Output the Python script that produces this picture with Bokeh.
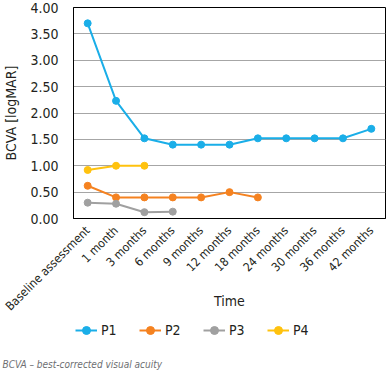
from bokeh.plotting import figure
from bokeh.layouts import column, row
from bokeh.models import (FactorRange, Range1d, Legend, LegendItem, Label,
                          NumeralTickFormatter, FixedTicker)
from bokeh.embed import file_html
from bokeh.resources import INLINE
import math

times = ["Baseline assessment", "1 month", "3 months", "6 months", "9 months", "12 months",
         "18 months", "24 months", "30 months", "36 months", "42 months"]
p1 = [3.70, 2.23, 1.52, 1.40, 1.40, 1.40, 1.52, 1.52, 1.52, 1.52, 1.70]
p2 = [0.62, 0.40, 0.40, 0.40, 0.40, 0.50, 0.40]
p3 = [0.30, 0.28, 0.12, 0.13]
p4 = [0.92, 1.00, 1.00]
series_names = ["P1", "P2", "P3", "P4"]
series_vals = [p1, p2, p3, p4]
colors = ["#1aaee8", "#f58220", "#a0a0a0", "#ffc20e"]
y_ticks = [0, 0.5, 1.0, 1.5, 2.0, 2.5, 3.0, 3.5, 4.0]

FONT = "DejaVu Sans Condensed"
TXT = "#231f20"

p = figure(width=388, height=312, x_range=FactorRange(factors=times),
           y_range=Range1d(0, 4), output_backend="svg", toolbar_location=None,
           min_border_left=61, min_border_top=7, min_border_right=3, min_border_bottom=0)

p.outline_line_color = "black"
p.outline_line_width = 1
p.xgrid.grid_line_color = None
p.ygrid.grid_line_color = "#a6a6a6"
p.ygrid.grid_line_width = 1

p.yaxis.ticker = FixedTicker(ticks=y_ticks)
p.yaxis.formatter = NumeralTickFormatter(format="0.00")
p.yaxis.axis_label = "BCVA [logMAR]"
p.xaxis.axis_label = "Time"
for ax in (p.xaxis[0], p.yaxis[0]):
    ax.axis_line_color = "black"
    ax.axis_line_width = 1
    ax.major_tick_line_color = None
    ax.minor_tick_line_color = None
    ax.major_label_text_font = FONT
    ax.major_label_text_color = TXT
    ax.axis_label_text_font = FONT
    ax.axis_label_text_font_style = "normal"
    ax.axis_label_text_color = TXT
    ax.axis_label_text_font_size = "14px"
p.yaxis.major_label_text_font_size = "14px"
p.xaxis.major_label_text_font_size = "12px"
p.xaxis.major_label_orientation = math.pi / 4
p.xaxis.major_label_standoff = 4
p.yaxis.major_label_standoff = 9
p.yaxis.axis_label_standoff = 8
p.xaxis.axis_label_standoff = -28

for vals, c in zip(series_vals, colors):
    xs = times[:len(vals)]
    p.line(xs, vals, line_color=c, line_width=2)
    p.scatter(xs, vals, size=7, fill_color=c, line_color=c)

# legend strip + footnote (series drawn outside its visible y-range; only legend shows)
q = figure(width=388, height=58, x_range=FactorRange(factors=times), y_range=Range1d(10, 11),
           x_axis_type=None, y_axis_type=None, output_backend="svg", toolbar_location=None,
           min_border=0)
q.outline_line_color = None
q.xgrid.grid_line_color = None
q.ygrid.grid_line_color = None

items = []
for name, vals, c in zip(series_names, series_vals, colors):
    xs = times[:len(vals)]
    r1 = q.line(xs, vals, line_color=c, line_width=2)
    r2 = q.scatter(xs, vals, size=5, fill_color=c, line_color=c)
    items.append(LegendItem(label=name, renderers=[r1, r2]))

legend = Legend(items=items, orientation="horizontal", location=(75, 30),
                label_text_font=FONT, label_text_font_size="14px", label_text_color=TXT,
                glyph_width=22, spacing=18, border_line_color=None,
                background_fill_alpha=0, margin=0, padding=0, label_standoff=4)
q.add_layout(legend, "center")

note = Label(x=2, y=6, x_units="screen", y_units="screen",
             text="BCVA \u2013 best-corrected visual acuity",
             text_font=FONT, text_font_style="italic", text_font_size="10px",
             text_color="#6d6e71", text_baseline="middle", text_align="left")
q.add_layout(note)

layout = column(p, row(q), spacing=0)
open("out.html", "w").write(file_html(layout, INLINE))
